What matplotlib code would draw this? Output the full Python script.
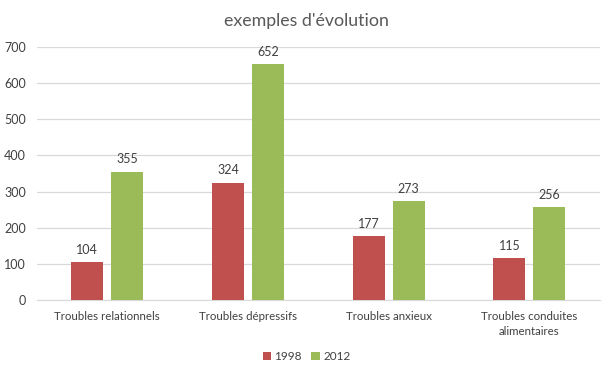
import numpy as np
import matplotlib.pyplot as plt

categories = ['Troubles relationnels', 'Troubles dépressifs', 'Troubles anxieux',
              'Troubles conduites\nalimentaires']
v1998 = [104, 324, 177, 115]
v2012 = [355, 652, 273, 256]
series = ['1998', '2012']
yticks = [0, 100, 200, 300, 400, 500, 600, 700]

red = '#C0504D'
green = '#9BBB59'
txt = '#404040'

plt.rcParams['font.family'] = ['Lato', 'DejaVu Sans']

fig = plt.figure(figsize=(6.13, 3.74), dpi=100)
ax = fig.add_axes([0.0604, 0.198, 0.918, 0.676])

x = np.arange(len(categories))
w = 0.227
off = 0.142
b1 = ax.bar(x - off, v1998, w, color=red, label=series[0], zorder=3)
b2 = ax.bar(x + off, v2012, w, color=green, label=series[1], zorder=3)

for bars, vals in ((b1, v1998), (b2, v2012)):
    for b, v in zip(bars, vals):
        ax.text(b.get_x() + b.get_width() / 2, v + 18, str(v), ha='center', va='bottom',
                fontsize=9, color=txt)

ax.set_xlim(-0.5, len(categories) - 0.5)
ax.set_ylim(0, 700)
ax.set_yticks(yticks)
ax.set_xticks(x)
ax.set_xticklabels(categories, fontsize=8.3, color=txt, linespacing=1.45)
ax.tick_params(axis='y', labelsize=9, labelcolor=txt, length=0, pad=8)
ax.tick_params(axis='x', length=0, pad=8)
ax.grid(axis='y', color='#D9D9D9', linewidth=0.9, zorder=0)
for s in ['top', 'right', 'left']:
    ax.spines[s].set_visible(False)
ax.spines['bottom'].set_color('#D9D9D9')

fig.text(0.5, 0.945, "exemples d'évolution", ha='center', va='center', fontsize=12.8,
         color='#595959')

fig.legend(handles=[b1, b2], labels=series, loc='center', bbox_to_anchor=(0.5, 0.047),
           ncol=2, frameon=False, fontsize=8.5, handlelength=0.7, handleheight=0.7,
           handletextpad=0.3, columnspacing=0.8, labelcolor=txt)

fig.savefig('out.png', dpi=100)
